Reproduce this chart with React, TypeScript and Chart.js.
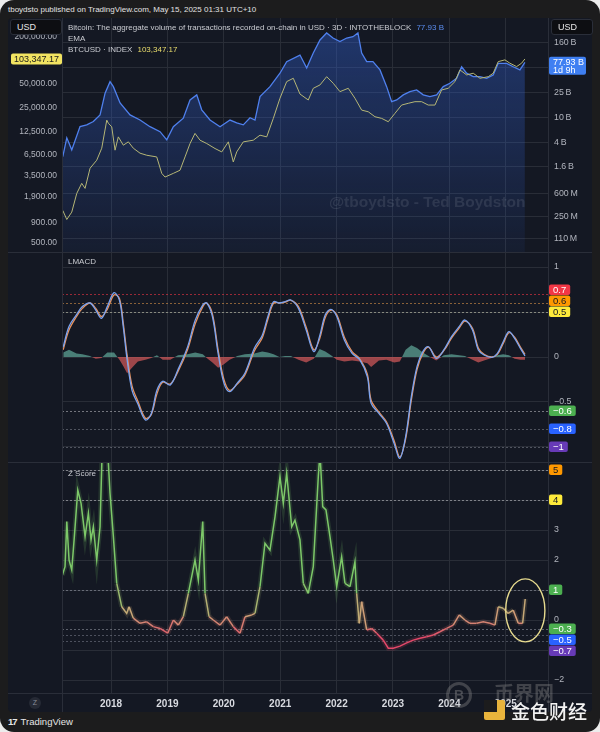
import React, { useEffect, useRef } from "react";
import { Chart, registerables } from "chart.js";

Chart.register(...registerables);

// ---------------- data ----------------
const X_MIN = 2017.13;
const X_MAX = 2025.75;
const YEAR_TICKS = [2018, 2019, 2020, 2021, 2022, 2023, 2024, 2025];

const PRICE_MIN = 380;
const PRICE_MAX = 339600;
const PRICE_TICKS = [500, 900, 1900, 3500, 6500, 12500, 25000, 50000, 200000];

const VOL_MIN_B = 0.0672;
const VOL_MAX_B = 404.6;
const VOL_TICKS_B = [0.11, 0.25, 0.6, 1.6, 4, 10, 25, 64, 160];

const VOL_YEARS = [2017.144, 2017.215, 2017.303, 2017.45, 2017.569, 2017.686, 2017.805, 2017.894, 2017.982, 2018.041, 2018.16, 2018.337, 2018.514, 2018.691, 2018.869, 2018.988, 2019.105, 2019.282, 2019.401, 2019.52, 2019.608, 2019.755, 2019.933, 2020.11, 2020.229, 2020.346, 2020.465, 2020.553, 2020.642, 2020.819, 2020.996, 2021.115, 2021.351, 2021.47, 2021.587, 2021.706, 2021.824, 2021.936, 2022.06, 2022.179, 2022.291, 2022.379, 2022.445, 2022.534, 2022.645, 2022.77, 2022.888, 2022.977, 2023.066, 2023.183, 2023.301, 2023.42, 2023.537, 2023.656, 2023.775, 2023.892, 2024.011, 2024.129, 2024.218, 2024.307, 2024.424, 2024.543, 2024.661, 2024.778, 2024.867, 2025.016, 2025.133, 2025.252, 2025.34];
const VOL_B = [2.34, 4.69, 3.0, 7.13, 7.6, 8.6, 11.0, 24.7, 37.9, 31.5, 17.2, 11.0, 9.1, 7.1, 5.9, 4.35, 7.1, 9.75, 19.2, 23.2, 13.3, 9.1, 7.1, 9.1, 8.2, 7.6, 9.9, 9.1, 21.7, 31.5, 51.9, 79.8, 102, 63, 110, 179, 232, 192, 168, 192, 202, 232, 110, 79.8, 80, 58.6, 31.5, 18.0, 19.2, 23.2, 26.2, 27.9, 23.2, 21.7, 23.2, 31.5, 35.7, 43, 66, 52, 45.7, 45.7, 43, 48.6, 75, 75, 66, 58.6, 77.93];

const BTC_YEARS = [2017.144, 2017.215, 2017.303, 2017.392, 2017.48, 2017.539, 2017.628, 2017.746, 2017.835, 2017.924, 2017.952, 2018.012, 2018.071, 2018.129, 2018.218, 2018.307, 2018.395, 2018.514, 2018.633, 2018.81, 2018.899, 2018.957, 2019.105, 2019.223, 2019.312, 2019.401, 2019.489, 2019.578, 2019.697, 2019.844, 2019.963, 2020.08, 2020.168, 2020.229, 2020.346, 2020.523, 2020.642, 2020.761, 2020.878, 2020.996, 2021.115, 2021.232, 2021.351, 2021.498, 2021.587, 2021.706, 2021.824, 2021.941, 2022.06, 2022.207, 2022.326, 2022.445, 2022.562, 2022.681, 2022.8, 2022.917, 2023.035, 2023.154, 2023.271, 2023.39, 2023.509, 2023.626, 2023.745, 2023.863, 2023.98, 2024.099, 2024.188, 2024.307, 2024.424, 2024.543, 2024.69, 2024.778, 2024.867, 2024.986, 2025.074, 2025.193, 2025.282, 2025.34];
const BTC_USD = [1270, 977, 1210, 2085, 2790, 2410, 4325, 5460, 7740, 17500, 16000, 14400, 7310, 10760, 8450, 9310, 7740, 6700, 6310, 6010, 3730, 3350, 3730, 4080, 6010, 8870, 11900, 9770, 8870, 7670, 6950, 9310, 5190, 6950, 9310, 9770, 11300, 10760, 18400, 33000, 53500, 59000, 37300, 31400, 44100, 48600, 61800, 51000, 40000, 44100, 33000, 23400, 22300, 19300, 18400, 16700, 21300, 27100, 28500, 29900, 29900, 27100, 27100, 42000, 44100, 53500, 75200, 65000, 68300, 59000, 61800, 68300, 95700, 100700, 91400, 82800, 91400, 103347.17];

const LMACD_MIN = -1.1667;
const LMACD_MAX = 1.1667;
const LMACD_TICKS = [-1, -0.5, 0, 0.5, 1];
const LMACD_YEARS = [2017.151, 2017.254, 2017.388, 2017.491, 2017.626, 2017.729, 2017.83, 2017.933, 2018.053, 2018.149, 2018.216, 2018.285, 2018.372, 2018.475, 2018.61, 2018.713, 2018.814, 2018.915, 2019.051, 2019.188, 2019.356, 2019.493, 2019.628, 2019.697, 2019.798, 2019.899, 2020.002, 2020.103, 2020.239, 2020.374, 2020.544, 2020.681, 2020.782, 2020.883, 2020.986, 2021.087, 2021.19, 2021.324, 2021.461, 2021.596, 2021.699, 2021.8, 2021.901, 2022.004, 2022.138, 2022.275, 2022.41, 2022.546, 2022.613, 2022.75, 2022.885, 2023.021, 2023.122, 2023.225, 2023.326, 2023.427, 2023.53, 2023.631, 2023.768, 2023.902, 2024.039, 2024.174, 2024.277, 2024.411, 2024.514, 2024.615, 2024.752, 2024.853, 2024.956, 2025.057, 2025.158, 2025.261, 2025.342];
const LMACD_VALUES = [0.11, 0.34, 0.47, 0.56, 0.6, 0.52, 0.43, 0.56, 0.715, 0.63, 0.34, -0.03, -0.37, -0.52, -0.7, -0.63, -0.37, -0.27, -0.31, -0.14, 0.11, 0.41, 0.58, 0.6, 0.45, 0.04, -0.29, -0.385, -0.29, -0.18, 0.1, 0.24, 0.45, 0.615, 0.6, 0.615, 0.633, 0.54, 0.3, 0.06, 0.23, 0.47, 0.53, 0.45, 0.19, 0.04, -0.03, -0.22, -0.515, -0.626, -0.737, -0.96, -1.126, -0.885, -0.44, -0.107, 0.06, 0.114, -0.015, 0.078, 0.226, 0.337, 0.411, 0.3, 0.078, 0.022, -0.004, 0.041, 0.17, 0.281, 0.207, 0.096, 0.011];
const SIGNAL_VALUES = [0.08, 0.3, 0.45, 0.54, 0.6, 0.54, 0.45, 0.53, 0.69, 0.65, 0.38, 0.02, -0.32, -0.49, -0.68, -0.64, -0.41, -0.28, -0.3, -0.16, 0.08, 0.37, 0.56, 0.6, 0.48, 0.08, -0.25, -0.37, -0.3, -0.2, 0.07, 0.21, 0.42, 0.6, 0.6, 0.61, 0.63, 0.56, 0.33, 0.08, 0.2, 0.44, 0.52, 0.47, 0.22, 0.06, -0.02, -0.19, -0.48, -0.61, -0.72, -0.93, -1.11, -0.91, -0.48, -0.14, 0.04, 0.11, 0.0, 0.07, 0.21, 0.32, 0.4, 0.32, 0.1, 0.03, 0.0, 0.03, 0.15, 0.27, 0.22, 0.11, 0.03];
const HIST_VALUES = [0.05, 0.08, 0.04, 0.03, 0.01, -0.02, -0.01, 0.05, 0.05, -0.03, -0.1, -0.18, -0.12, -0.05, -0.03, -0.01, 0.02, -0.03, -0.03, 0.02, 0.03, 0.05, 0.03, -0.01, -0.06, -0.12, -0.08, -0.03, 0.01, 0.03, 0.04, 0.06, 0.05, 0.03, 0.0, 0.01, 0.01, -0.03, -0.06, -0.02, 0.09, 0.06, 0.02, -0.03, -0.05, -0.04, -0.05, -0.07, -0.11, -0.04, -0.03, -0.06, -0.05, 0.08, 0.13, 0.1, 0.05, 0.01, -0.04, 0.02, 0.03, 0.02, 0.01, -0.03, -0.06, -0.04, -0.01, 0.02, 0.03, 0.02, -0.02, -0.03, -0.03];
const LMACD_LEVELS = [0.7, 0.6, 0.5, -0.6, -0.8, -1];
const LMACD_BOX_COLORS = ["#f23645", "#ff9800", "#ffeb3b", "#4caf50", "#2962ff", "#673ab7"];
const LMACD_TEXT_COLORS = ["#ffffff", "#131722", "#131722", "#ffffff", "#ffffff", "#ffffff"];
const LMACD_LINE_COLORS = ["rgba(242,54,69,0.6)", "rgba(255,170,80,0.5)", "rgba(230,230,200,0.5)", "rgba(210,210,215,0.5)", "rgba(170,175,185,0.4)", "rgba(170,175,185,0.4)"];

const Z_MIN = -2.433;
const Z_MAX = 5.267;
const Z_TICKS = [-2, -1, 0, 1, 2, 3, 4, 5];
const Z_YEARS = [2017.137, 2017.184, 2017.215, 2017.255, 2017.303, 2017.349, 2017.41, 2017.468, 2017.539, 2017.598, 2017.645, 2017.686, 2017.746, 2017.805, 2017.846, 2017.924, 2017.982, 2018.041, 2018.101, 2018.19, 2018.278, 2018.319, 2018.395, 2018.514, 2018.633, 2018.75, 2018.869, 2019.005, 2019.105, 2019.193, 2019.282, 2019.371, 2019.489, 2019.548, 2019.626, 2019.667, 2019.738, 2019.814, 2019.933, 2020.051, 2020.168, 2020.287, 2020.376, 2020.495, 2020.553, 2020.642, 2020.73, 2020.819, 2020.908, 2020.996, 2021.055, 2021.115, 2021.204, 2021.262, 2021.351, 2021.41, 2021.498, 2021.587, 2021.676, 2021.706, 2021.754, 2021.812, 2021.883, 2021.941, 2022.002, 2022.09, 2022.149, 2022.238, 2022.326, 2022.356, 2022.402, 2022.445, 2022.534, 2022.622, 2022.711, 2022.828, 2022.917, 2023.005, 2023.124, 2023.243, 2023.36, 2023.479, 2023.597, 2023.715, 2023.833, 2023.952, 2024.069, 2024.176, 2024.277, 2024.365, 2024.484, 2024.601, 2024.72, 2024.809, 2024.867, 2024.956, 2025.044, 2025.133, 2025.222, 2025.3, 2025.346];
const Z_VALUES = [1.5, 1.78, 3.28, 2.0, 1.67, 2.78, 4.33, 3.89, 2.78, 3.56, 2.67, 3.11, 2.0, 3.11, 5.9, 6.2, 4.22, 2.78, 1.22, 0.44, 0.22, 0.44, 0.06, -0.11, -0.06, -0.22, -0.28, -0.44, 0, -0.17, 0.11, 0.89, 2.0, 1.33, 3.28, 0.89, 0.11, 0, -0.17, 0.11, -0.22, -0.44, 0.11, 0.17, 0.22, 1.11, 2.56, 2.33, 3.44, 4.78, 3.89, 4.89, 3.11, 3.33, 2.67, 1.22, 0.89, 1.78, 4.78, 5.6, 3.78, 3.67, 2.78, 2.0, 1.11, 2.11, 1.22, 1.11, 1.94, 0.89, -0.11, 0.61, -0.33, -0.28, -0.44, -0.67, -0.94, -0.94, -0.87, -0.76, -0.67, -0.61, -0.56, -0.5, -0.39, -0.28, -0.17, 0.17, 0, -0.11, -0.11, -0.06, -0.11, -0.17, 0.44, 0.39, 0.22, 0.33, -0.11, -0.11, 0.7];
const Z_LEVELS = [5, 4, 1, -0.3, -0.5, -0.7];
const Z_BOX_COLORS = ["#ff9800", "#ffeb3b", "#4caf50", "#4caf50", "#2962ff", "#673ab7"];
const Z_TEXT_COLORS = ["#131722", "#131722", "#ffffff", "#ffffff", "#ffffff", "#ffffff"];
const Z_LINE_COLORS = ["rgba(215,215,220,0.5)", "rgba(215,215,220,0.5)", "rgba(180,185,195,0.45)", "rgba(180,185,195,0.45)", "rgba(160,165,180,0.4)", "rgba(160,165,180,0.4)"];
const ELLIPSE_X = [2025.0, 2025.695];
const ELLIPSE_Z = [-0.73, 1.37];

const VOL_LAST_LABEL = "77.93 B";
const VOL_TIMER_LABEL = "1d 9h";
const BTC_LAST_LABEL = "103,347.17";

// ---------------- styling helpers ----------------
const FONT = '"Liberation Sans", Arial, sans-serif';
const GRID = "rgba(42,46,57,0.95)";
const TICK = "#b2b5be";
const BOX_H = 11;

function roundRect(ctx: CanvasRenderingContext2D, x: number, y: number, w: number, h: number, r: number) {
  ctx.beginPath();
  ctx.moveTo(x + r, y);
  ctx.lineTo(x + w - r, y);
  ctx.quadraticCurveTo(x + w, y, x + w, y + r);
  ctx.lineTo(x + w, y + h - r);
  ctx.quadraticCurveTo(x + w, y + h, x + w - r, y + h);
  ctx.lineTo(x + r, y + h);
  ctx.quadraticCurveTo(x, y + h, x, y + h - r);
  ctx.lineTo(x, y + r);
  ctx.quadraticCurveTo(x, y, x + r, y);
  ctx.closePath();
}

const minusFmt = (v: number) => (v < 0 ? "\u2212" + String(Math.abs(v)) : String(v));

const noPad = (s: any) => {
  s.paddingTop = 0;
  s.paddingBottom = 0;
  s.paddingLeft = 0;
  s.paddingRight = 0;
};

function xScale(showLabels: boolean) {
  return {
    type: "linear",
    min: X_MIN,
    max: X_MAX,
    afterBuildTicks: (s: any) => {
      s.ticks = YEAR_TICKS.map((v) => ({ value: v }));
    },
    grid: { color: GRID, drawTicks: false, lineWidth: 1 },
    border: { display: false },
    ticks: showLabels
      ? { display: true, color: "#d8dae0", font: { size: 10, weight: "bold" }, padding: 5, maxRotation: 0, autoSkip: false, callback: (v: any) => String(v) }
      : { display: false },
    afterFit: (s: any) => {
      s.height = showLabels ? 19 : 0;
      noPad(s);
    },
  };
}

function yRight(min: number, max: number, ticks: number[], fmt: (v: number) => string, type = "linear") {
  return {
    type,
    position: "right",
    min,
    max,
    afterBuildTicks: (s: any) => {
      s.ticks = ticks.map((v) => ({ value: v }));
    },
    ticks: { color: TICK, font: { size: 8.8 }, padding: 6, autoSkip: false, callback: (v: any) => fmt(Number(v)) },
    grid: { color: GRID, drawTicks: false },
    border: { display: false },
    afterFit: (s: any) => {
      s.width = 44;
      noPad(s);
    },
  };
}

// value boxes on the right axis; boxes that would overlap are pushed away from zero
function levelPlugin(id: string, levels: number[], boxColors: string[], textColors: string[], lineColors: string[]) {
  return {
    id,
    beforeDatasetsDraw(chart: any) {
      const { ctx, chartArea } = chart;
      const y = chart.scales.y;
      ctx.save();
      ctx.setLineDash([2, 2]);
      ctx.lineWidth = 1;
      levels.forEach((lv, i) => {
        const py = Math.round(y.getPixelForValue(lv)) + 0.5;
        ctx.strokeStyle = lineColors[i];
        ctx.beginPath();
        ctx.moveTo(chartArea.left, py);
        ctx.lineTo(chartArea.right, py);
        ctx.stroke();
      });
      ctx.restore();
    },
    afterDraw(chart: any) {
      const { ctx, chartArea } = chart;
      const y = chart.scales.y;
      const pos: number[] = levels.map((lv) => y.getPixelForValue(lv));
      const zeroPx = y.getPixelForValue(0);
      const up = levels.map((_, i) => i).filter((i) => pos[i] < zeroPx).sort((a, b) => pos[b] - pos[a]);
      let prev = Infinity;
      up.forEach((i) => {
        pos[i] = Math.min(pos[i], prev - BOX_H);
        prev = pos[i];
      });
      const down = levels.map((_, i) => i).filter((i) => pos[i] >= zeroPx).sort((a, b) => pos[a] - pos[b]);
      prev = -Infinity;
      down.forEach((i) => {
        pos[i] = Math.max(pos[i], prev + BOX_H);
        prev = pos[i];
      });
      ctx.save();
      ctx.font = `9.5px ${FONT}`;
      ctx.textBaseline = "middle";
      ctx.textAlign = "left";
      levels.forEach((lv, i) => {
        const py = pos[i];
        const label = minusFmt(lv);
        const w = ctx.measureText(label).width + 8;
        ctx.fillStyle = boxColors[i];
        roundRect(ctx, chartArea.right + 1, py - BOX_H / 2, w, BOX_H - 0.5, 2);
        ctx.fill();
        ctx.fillStyle = textColors[i];
        ctx.fillText(label, chartArea.right + 5, py + 0.5);
      });
      ctx.restore();
    },
  };
}

const lastValuePlugin = {
  id: "lastValue",
  afterDraw(chart: any) {
    const { ctx, chartArea } = chart;
    ctx.save();
    ctx.font = `9px ${FONT}`;
    ctx.textBaseline = "middle";
    const yP = chart.scales.yPrice.getPixelForValue(BTC_USD[BTC_USD.length - 1]);
    ctx.fillStyle = "#f2e462";
    roundRect(ctx, 3, yP - 5.5, 51, 11, 2);
    ctx.fill();
    ctx.fillStyle = "#1a1a1a";
    ctx.textAlign = "center";
    ctx.fillText(BTC_LAST_LABEL, 28.5, yP + 0.5);
    const yV = chart.scales.yVol.getPixelForValue(VOL_B[VOL_B.length - 1]);
    ctx.fillStyle = "#3f7ff2";
    roundRect(ctx, chartArea.right + 1, yV - 5.5, 37, 18, 2);
    ctx.fill();
    ctx.fillStyle = "#ffffff";
    ctx.textAlign = "left";
    ctx.fillText(VOL_LAST_LABEL, chartArea.right + 5, yV + 0.5);
    ctx.fillText(VOL_TIMER_LABEL, chartArea.right + 5, yV + 8.5);
    ctx.restore();
  },
};

const ellipsePlugin = {
  id: "ellipse",
  afterDatasetsDraw(chart: any) {
    const { ctx } = chart;
    const x = chart.scales.x;
    const y = chart.scales.y;
    const x0 = x.getPixelForValue(ELLIPSE_X[0]);
    const x1 = x.getPixelForValue(ELLIPSE_X[1]);
    const y0 = y.getPixelForValue(ELLIPSE_Z[1]);
    const y1 = y.getPixelForValue(ELLIPSE_Z[0]);
    ctx.save();
    ctx.strokeStyle = "#e6da8e";
    ctx.lineWidth = 1.4;
    ctx.beginPath();
    ctx.ellipse((x0 + x1) / 2, (y0 + y1) / 2, (x1 - x0) / 2, (y1 - y0) / 2, 0, 0, Math.PI * 2);
    ctx.stroke();
    ctx.restore();
  },
};

function lerp(a: number[], b: number[], t: number) {
  const k = Math.max(0, Math.min(1, t));
  return a.map((v, i) => Math.round(v + (b[i] - v) * k));
}
function zColor(z: number, alpha: number) {
  const green = [125, 200, 105];
  const tan = [205, 165, 120];
  const pink = [228, 72, 105];
  let c: number[];
  if (z >= 1.2) c = green;
  else if (z >= 0.2) c = lerp(tan, green, (z - 0.2) / 1.0);
  else if (z >= -0.6) c = lerp(pink, tan, (z + 0.6) / 0.8);
  else c = pink;
  return `rgba(${c[0]},${c[1]},${c[2]},${alpha})`;
}

const commonOpts = {
  animation: false,
  responsive: false,
  maintainAspectRatio: false,
  devicePixelRatio: 1,
  events: [],
  plugins: { legend: { display: false }, tooltip: { enabled: false } },
};

export default function App() {
  const r1 = useRef<HTMLCanvasElement>(null);
  const r2 = useRef<HTMLCanvasElement>(null);
  const r3 = useRef<HTMLCanvasElement>(null);

  useEffect(() => {
    Chart.defaults.font.family = FONT;
    Chart.defaults.color = TICK;
    const charts: Chart[] = [];

    const yPrice: any = yRight(PRICE_MIN, PRICE_MAX, PRICE_TICKS, (v) => v.toLocaleString("en-US", { minimumFractionDigits: 2, maximumFractionDigits: 2 }), "logarithmic");
    yPrice.position = "left";
    yPrice.ticks.padding = 5;
    yPrice.ticks.font = { size: 8.5 };
    yPrice.grid = { display: false, drawTicks: false };
    yPrice.afterFit = (s: any) => {
      s.width = 54;
      noPad(s);
    };

    charts.push(
      new Chart(r1.current as HTMLCanvasElement, {
        type: "line",
        data: {
          datasets: [
            {
              label: "BTCUSD",
              data: BTC_YEARS.map((x, i) => ({ x, y: BTC_USD[i] })),
              yAxisID: "yPrice",
              borderColor: "#b5b676",
              borderWidth: 1,
              pointRadius: 0,
              tension: 0,
              order: 1,
            },
            {
              label: "Volume",
              data: VOL_YEARS.map((x, i) => ({ x, y: VOL_B[i] })),
              yAxisID: "yVol",
              borderColor: "#4f80ee",
              borderWidth: 1.3,
              pointRadius: 0,
              tension: 0,
              fill: "start",
              backgroundColor: (c: any) => {
                const ca = c.chart.chartArea;
                if (!ca) return "rgba(0,0,0,0)";
                const g = c.chart.ctx.createLinearGradient(0, ca.top, 0, ca.bottom);
                g.addColorStop(0, "rgba(52,100,215,0.42)");
                g.addColorStop(1, "rgba(52,100,215,0.07)");
                return g;
              },
              order: 2,
            },
          ],
        },
        options: {
          ...commonOpts,
          layout: { padding: 0, autoPadding: false },
          scales: {
            x: xScale(false),
            yPrice,
            yVol: yRight(VOL_MIN_B, VOL_MAX_B, VOL_TICKS_B, (v) => (v >= 1 ? `${v}\u2009B` : `${Math.round(v * 1000)}\u2009M`), "logarithmic"),
          },
        } as any,
        plugins: [lastValuePlugin],
      })
    );

    charts.push(
      new Chart(r2.current as HTMLCanvasElement, {
        type: "line",
        data: {
          datasets: [
            {
              label: "Histogram",
              data: LMACD_YEARS.map((x, i) => ({ x, y: HIST_VALUES[i] })),
              borderWidth: 0,
              borderColor: "rgba(0,0,0,0)",
              pointRadius: 0,
              tension: 0,
              fill: { target: "origin", above: "rgba(110,195,175,0.6)", below: "rgba(230,95,95,0.65)" },
              order: 3,
            },
            {
              label: "Signal",
              data: LMACD_YEARS.map((x, i) => ({ x, y: SIGNAL_VALUES[i] })),
              borderColor: "#e8925c",
              borderWidth: 1.3,
              pointRadius: 0,
              tension: 0.35,
              order: 2,
            },
            {
              label: "LMACD",
              data: LMACD_YEARS.map((x, i) => ({ x, y: LMACD_VALUES[i] })),
              borderColor: "#7aa3f0",
              borderWidth: 1.3,
              pointRadius: 0,
              tension: 0.35,
              order: 1,
            },
          ],
        },
        options: {
          ...commonOpts,
          layout: { padding: { left: 54, right: 0, top: 0, bottom: 0 }, autoPadding: false },
          scales: {
            x: xScale(false),
            y: yRight(LMACD_MIN, LMACD_MAX, LMACD_TICKS, minusFmt),
          },
        } as any,
        plugins: [levelPlugin("lmacdLevels", LMACD_LEVELS, LMACD_BOX_COLORS, LMACD_TEXT_COLORS, LMACD_LINE_COLORS)],
      })
    );

    charts.push(
      new Chart(r3.current as HTMLCanvasElement, {
        type: "line",
        data: {
          datasets: [
            {
              label: "Z glow",
              data: Z_YEARS.map((x, i) => ({ x, y: Z_VALUES[i] })),
              borderWidth: 5,
              pointRadius: 0,
              tension: 0,
              borderColor: "rgba(125,200,105,0.15)",
              segment: { borderColor: (c: any) => zColor((c.p0.parsed.y + c.p1.parsed.y) / 2, 0.16) },
              order: 2,
            },
            {
              label: "Z Score",
              data: Z_YEARS.map((x, i) => ({ x, y: Z_VALUES[i] })),
              borderWidth: 1.5,
              pointRadius: 0,
              tension: 0,
              borderColor: "#7dc869",
              segment: { borderColor: (c: any) => zColor((c.p0.parsed.y + c.p1.parsed.y) / 2, 1) },
              order: 1,
            },
          ],
        },
        options: {
          ...commonOpts,
          layout: { padding: { left: 54, right: 0, top: 0, bottom: 0 }, autoPadding: false },
          scales: {
            x: xScale(true),
            y: yRight(Z_MIN, Z_MAX, Z_TICKS, (v) => (v === -1 ? "" : minusFmt(v))),
          },
        } as any,
        plugins: [levelPlugin("zLevels", Z_LEVELS, Z_BOX_COLORS, Z_TEXT_COLORS, Z_LINE_COLORS), ellipsePlugin],
      })
    );

    return () => charts.forEach((c) => c.destroy());
  }, []);

  const abs = (left: number, top: number, extra: any = {}) => ({ position: "absolute" as const, left, top, ...extra });
  const text = { fontFamily: FONT, whiteSpace: "nowrap" as const };
  const sepColor = "#2a2e39";

  return (
    <div style={{ position: "fixed", left: 0, top: 0, width: 600, height: 732, background: "#ececec" }}>
      <div style={{ position: "absolute", left: 0, top: 0, width: 600, height: 732, background: "#1c1c1d", borderRadius: 14, overflow: "hidden" }}>
        <div style={abs(8, 4, { ...text, fontSize: 8, lineHeight: "12px", color: "#e2e2e2" })}>
          tboydsto published on TradingView.com, May 15, 2025 01:31 UTC+10
        </div>
        <div style={abs(8, 18, { width: 584, height: 694, background: "#141823", borderRadius: 4 })} />

        <canvas ref={r1} width={584} height={234} style={abs(8, 18, { width: 584, height: 234 })} />
        <canvas ref={r2} width={584} height={210} style={abs(8, 252, { width: 584, height: 210 })} />
        <canvas ref={r3} width={584} height={250} style={abs(8, 462, { width: 584, height: 250 })} />

        {/* separators */}
        <div style={abs(8, 252, { width: 584, height: 1, background: sepColor })} />
        <div style={abs(8, 462, { width: 584, height: 1, background: sepColor })} />
        <div style={abs(8, 693, { width: 584, height: 1, background: sepColor })} />
        <div style={abs(62, 18, { width: 1, height: 694, background: sepColor })} />
        <div style={abs(548, 18, { width: 1, height: 694, background: sepColor })} />

        {/* USD boxes */}
        <div style={abs(10, 19, { ...text, width: 44, height: 14, paddingLeft: 6, background: "#0d0e12", border: "1px solid #2a2e39", borderRadius: 3, color: "#e6e6e6", fontSize: 9, lineHeight: "14px" })}>USD</div>
        <div style={abs(551, 19, { ...text, width: 34, height: 14, paddingLeft: 6, background: "#0d0e12", border: "1px solid #2a2e39", borderRadius: 3, color: "#e6e6e6", fontSize: 9, lineHeight: "14px" })}>USD</div>

        {/* legend */}
        <div style={abs(68, 22, { ...text, fontSize: 8, lineHeight: "11px", color: "#c9cbd1" })}>
          <div>
            Bitcoin: The aggregate volume of transactions recorded on-chain in USD · 3D · INTOTHEBLOCK
            <span style={{ color: "#5b8def", marginLeft: 5 }}>77.93 B</span>
          </div>
          <div>EMA</div>
          <div>
            BTCUSD · INDEX<span style={{ color: "#e9dc6c", marginLeft: 5 }}>103,347.17</span>
          </div>
        </div>

        <div style={abs(329, 193, { ...text, fontSize: 15.5, fontWeight: 700, color: "rgba(205,210,220,0.12)" })}>@tboydsto - Ted Boydston</div>

        <div style={abs(68, 256, { ...text, fontSize: 8, lineHeight: "12px", color: "#c9cbd1" })}>LMACD</div>
        <div style={abs(68, 468, { ...text, fontSize: 8, lineHeight: "12px", color: "#c9cbd1" })}>Z Score</div>

        {/* Z circle */}
        <div style={abs(29, 697, { ...text, width: 12, height: 12, borderRadius: 6, background: "#262a35", color: "#8a8e99", fontSize: 7, lineHeight: "12px", textAlign: "center" })}>Z</div>

        {/* footer logo */}
        <div style={abs(8, 716, { ...text, fontSize: 9.5, lineHeight: "12px", color: "#e6e6e6" })}>
          <span style={{ fontWeight: 800, letterSpacing: -1, marginRight: 4 }}>17</span>TradingView
        </div>

        {/* source watermarks */}
        <div style={abs(446, 682, { width: 26, height: 26, borderRadius: 13, border: "3px solid rgba(150,150,150,0.35)", boxSizing: "border-box", color: "rgba(150,150,150,0.4)", fontFamily: FONT, fontWeight: 800, fontSize: 14, lineHeight: "20px", textAlign: "center" })}>B</div>
        <div style={abs(494, 680, { ...text, fontFamily: '"Noto Sans CJK SC", sans-serif', fontWeight: 700, fontSize: 20, lineHeight: "26px", color: "rgba(150,150,150,0.35)" })}>币界网</div>
        <div style={abs(484, 700, { width: 21, height: 20, background: "#e9b43c", borderRadius: 2 })}>
          <div style={{ position: "absolute", left: 0, top: 0, width: 13, height: 12, background: "#1c1c1d" }} />
        </div>
        <div style={abs(511, 699, { ...text, fontFamily: '"Noto Sans CJK SC", sans-serif', fontWeight: 500, fontSize: 19, lineHeight: "24px", color: "#f2f2f2" })}>金色财经</div>
      </div>
    </div>
  );
}
